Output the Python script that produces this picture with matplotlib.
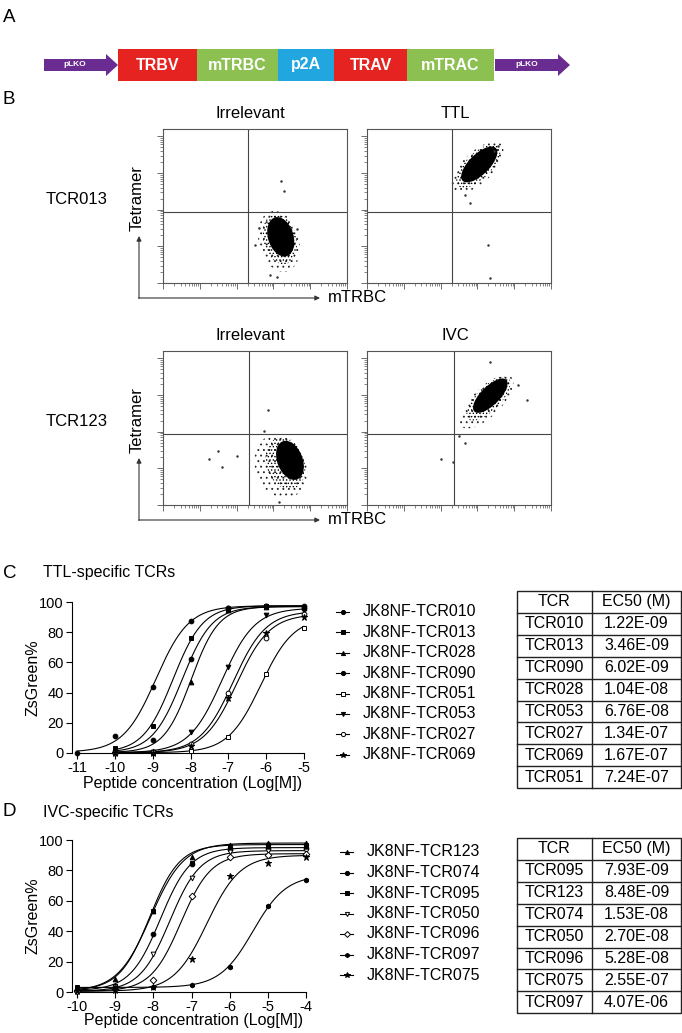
import numpy as np
import matplotlib
matplotlib.use('Agg')
import matplotlib.pyplot as plt
from matplotlib.patches import Rectangle, Polygon, Ellipse
from matplotlib.ticker import LogLocator, NullFormatter

plt.rcParams['font.family'] = ['Liberation Sans', 'DejaVu Sans']
plt.rcParams['hatch.linewidth'] = 0.6

W, H = 682, 1033

# ---- panel A: construct ----
construct_parts = ['TRBV', 'mTRBC', 'p2A', 'TRAV', 'mTRAC']
construct_colors = ['#E52421', '#8CC152', '#22A6DF', '#E52421', '#8CC152']
construct_edges = [118, 197, 278, 334, 407, 494]
vector_arrows = [(44, 118), (495, 570)]

# ---- panel B: flow plots ----
flow_rows = ['TCR013', 'TCR123']
flow_titles = [['Irrelevant', 'TTL'], ['Irrelevant', 'IVC']]
flow_percent = [['0.08%', '99.95%'], ['0.05%', '99.83%']]
# quadrant gate (axes fraction)
flow_gate = [[(0.46, 0.46), (0.46, 0.46)], [(0.47, 0.46), (0.475, 0.46)]]
# population core / halo: centre x, centre y, width, height, angle (axes fraction)
flow_core = [[(0.64, 0.30, 0.14, 0.26, 12), (0.61, 0.77, 0.12, 0.28, -38)],
             [(0.69, 0.29, 0.14, 0.26, 15), (0.67, 0.71, 0.11, 0.27, -38)]]
flow_halo = [[(0.63, 0.27, 0.22, 0.40, 10), (0.60, 0.75, 0.18, 0.40, -38)],
             [(0.64, 0.25, 0.28, 0.42, 12), (0.65, 0.67, 0.17, 0.42, -38)]]
flow_stray = [[[(0.66, 0.60), (0.64, 0.66), (0.52, 0.36), (0.58, 0.05), (0.62, 0.04), (0.50, 0.25), (0.73, 0.35)],
               [(0.53, 0.57), (0.56, 0.52), (0.69, 0.86), (0.71, 0.89), (0.66, 0.25), (0.67, 0.03)]],
              [[(0.25, 0.30), (0.30, 0.35), (0.40, 0.32), (0.32, 0.25), (0.57, 0.62), (0.55, 0.48), (0.63, 0.02)],
               [(0.67, 0.93), (0.82, 0.78), (0.87, 0.68), (0.50, 0.45), (0.53, 0.40), (0.40, 0.30), (0.47, 0.28)]]]

# ---- panel C: TTL-specific TCRs ----
ttl_log_conc = [-11, -10, -9, -8, -7, -6, -5]
ttl_names = ['JK8NF-TCR010', 'JK8NF-TCR013', 'JK8NF-TCR028', 'JK8NF-TCR090',
             'JK8NF-TCR051', 'JK8NF-TCR053', 'JK8NF-TCR027', 'JK8NF-TCR069']
ttl_markers = ['o', 's', '^', 'o', 's', 'v', 'o', '*']
ttl_filled = [True, True, True, True, False, True, False, True]
nan = np.nan
ttl_zsgreen = [
    [0, 11, 43.5, 87.5, 96, 97.5, 97.5],
    [nan, 3.5, 18, 76, 95, 97.5, 97],
    [nan, 0.5, 1, 47, 94.5, 97, 96],
    [nan, 1, 8.5, 62, 96, 97.5, 96],
    [nan, 0, 0, 1, 10.5, 52, 83],
    [nan, 0, 0.5, 14, 57, 91.5, 95],
    [nan, 0, 0.5, 6, 40, 76, 92],
    [nan, 0, 0, 4.5, 36.5, 79.5, 90],
]
ttl_top = [97.5, 97.5, 97, 97, 90, 96, 94, 92]
ttl_bottom = [0.5, 0.3, 0.3, 0.3, 0.2, 0.2, 0.2, 0.2]
ttl_hill = [1.0, 1.1, 1.2, 1.1, 1.0, 1.0, 1.0, 1.0]
ttl_table_tcr = ['TCR010', 'TCR013', 'TCR090', 'TCR028', 'TCR053', 'TCR027', 'TCR069', 'TCR051']
ttl_table_ec50 = ['1.22E-09', '3.46E-09', '6.02E-09', '1.04E-08', '6.76E-08', '1.34E-07', '1.67E-07', '7.24E-07']

# ---- panel D: IVC-specific TCRs ----
ivc_log_conc = [-10, -9, -8, -7, -6, -5, -4]
ivc_names = ['JK8NF-TCR123', 'JK8NF-TCR074', 'JK8NF-TCR095', 'JK8NF-TCR050',
             'JK8NF-TCR096', 'JK8NF-TCR097', 'JK8NF-TCR075']
ivc_markers = ['^', 'o', 's', 'v', 'D', 'h', '*']
ivc_filled = [True, True, True, False, False, True, True]
ivc_zsgreen = [
    [1, 8.5, 53, 89, 97, 98, 98],
    [1, 3, 38, 84, 94, 95, 95],
    [3, 4, 53, 85, 96, 97, 97],
    [0.5, 3, 25, 75, 92, 93, 93],
    [0.5, 2, 8, 63, 89, 90, 91],
    [2, 2.5, 3, 4.5, 16.5, 56.5, 74],
    [0.5, 1, 3, 22, 76.5, 85, 89],
]
ivc_top = [98, 95, 97, 93, 91, 77, 90]
ivc_bottom = [0.5, 1, 1, 0.5, 0.5, 3, 0.5]
ivc_hill = [1.0, 1.1, 1.1, 1.1, 1.1, 1.0, 1.0]
ivc_table_tcr = ['TCR095', 'TCR123', 'TCR074', 'TCR050', 'TCR096', 'TCR075', 'TCR097']
ivc_table_ec50 = ['7.93E-09', '8.48E-09', '1.53E-08', '2.70E-08', '5.28E-08', '2.55E-07', '4.07E-06']


fig = plt.figure(figsize=(W / 100, H / 100), dpi=100)

# overlay in pixel coordinates for labels and drawings
ov = fig.add_axes([0, 0, 1, 1])
ov.set_xlim(0, W)
ov.set_ylim(H, 0)
ov.axis('off')


def add_ax(x0, y0, x1, y1):
    return fig.add_axes([x0 / W, 1 - y1 / H, (x1 - x0) / W, (y1 - y0) / H])


# ---------------- A ----------------
ov.text(3, 17, 'A', fontsize=13.5, va='center', ha='left')
bar_top, bar_bot = 49, 81
ymid = (bar_top + bar_bot) / 2
for (xa, xb) in vector_arrows:
    head = 12
    body, hh = 6, 11
    pts = [(xa, ymid - body), (xb - head, ymid - body), (xb - head, ymid - hh), (xb, ymid),
           (xb - head, ymid + hh), (xb - head, ymid + body), (xa, ymid + body)]
    ov.add_patch(Polygon(pts, closed=True, color='#6B2C91', lw=0))
    ov.text((xa + xb - head) / 2, ymid, 'pLKO', color='white', fontsize=6, fontweight='bold',
            ha='center', va='center')
for i, part in enumerate(construct_parts):
    x0, x1 = construct_edges[i], construct_edges[i + 1]
    ov.add_patch(Rectangle((x0, bar_top), x1 - x0, bar_bot - bar_top, color=construct_colors[i], lw=0))
    ov.text((x0 + x1) / 2, ymid, part, color='white', fontsize=11.5, fontweight='bold',
            ha='center', va='center')

# ---------------- B ----------------
ov.text(3, 100, 'B', fontsize=13.5, va='center', ha='left')
row_shift = [0, 222]
box_x = [(163, 347), (367, 551)]
title_cx = [250, 455]
pct_right = [336, 548]
for r in range(2):
    dy = row_shift[r]
    ytop, ybot = 129 + dy, 283 + dy
    ov.text(108, 200 + dy, flow_rows[r], fontsize=12, ha='right', va='center')
    ov.text(137, 198 + dy, 'Tetramer', fontsize=12, rotation=90, ha='center', va='center')
    ax_y = 298 + dy
    ov.annotate('', xy=(139, 236 + dy), xytext=(139, ax_y + 0.4),
                arrowprops=dict(arrowstyle='-|>', lw=0.8, color='#333333', mutation_scale=7, shrinkA=0, shrinkB=0))
    ov.annotate('', xy=(320, ax_y), xytext=(138.6, ax_y),
                arrowprops=dict(arrowstyle='-|>', lw=0.8, color='#333333', mutation_scale=7, shrinkA=0, shrinkB=0))
    ov.text(328, ax_y, 'mTRBC', fontsize=12, ha='left', va='center')
    for c in range(2):
        x0, x1 = box_x[c]
        ax = add_ax(x0, ytop, x1, ybot)
        ax.set_xscale('log')
        ax.set_yscale('log')
        ax.set_xlim(1, 1e5)
        ax.set_ylim(1, 10 ** 4.2)
        for axis in (ax.xaxis, ax.yaxis):
            axis.set_major_locator(LogLocator(base=10, numticks=10))
            axis.set_minor_locator(LogLocator(base=10, subs=np.arange(2, 10), numticks=10))
            axis.set_major_formatter(NullFormatter())
            axis.set_minor_formatter(NullFormatter())
        ax.tick_params(which='major', length=4, width=0.6, color='#555555', direction='out')
        ax.tick_params(which='minor', length=2, width=0.5, color='#555555', direction='out')
        for s in ax.spines.values():
            s.set_linewidth(0.8)
            s.set_color('#555555')
        qx, qy = flow_gate[r][c]
        ax.plot([qx, qx], [0, 1], transform=ax.transAxes, color='#444444', lw=0.8)
        ax.plot([0, 1], [qy, qy], transform=ax.transAxes, color='#444444', lw=0.8)
        hx, hy, hw, hh2, ha = flow_halo[r][c]
        ax.add_patch(Ellipse((hx, hy), hw, hh2, angle=ha, transform=ax.transAxes,
                             facecolor='none', edgecolor='#222222', hatch='...', lw=0))
        ax.add_patch(Ellipse((hx * 0.5 + flow_core[r][c][0] * 0.5, hy * 0.5 + flow_core[r][c][1] * 0.5),
                             (hw + flow_core[r][c][2]) / 2, (hh2 + flow_core[r][c][3]) / 2, angle=ha,
                             transform=ax.transAxes, facecolor='none', edgecolor='black',
                             hatch='.....', lw=0))
        cx, cy, cw, ch, ca = flow_core[r][c]
        ax.add_patch(Ellipse((cx, cy), cw, ch, angle=ca, transform=ax.transAxes,
                             facecolor='black', lw=0))
        sx = [p[0] for p in flow_stray[r][c]]
        sy = [p[1] for p in flow_stray[r][c]]
        ax.scatter(sx, sy, s=0.6, color='#333333', transform=ax.transAxes)
        ov.text(title_cx[c], 113 + dy, flow_titles[r][c], fontsize=12, ha='center', va='center')
        ov.text(pct_right[c], 146 + dy, flow_percent[r][c], fontsize=10.5, ha='right', va='center')


# ---------------- dose-response ----------------
def hill_curve(x, bottom, top, logec50, hill):
    return bottom + (top - bottom) / (1 + 10 ** ((logec50 - x) * hill))


def dose_panel(box, log_conc, values, names, markers, filled, tops, bottoms, hills,
               table_tcr, table_ec50, xlim, label_y):
    ax = add_ax(*box)
    tcr_to_ec50 = dict(zip(table_tcr, table_ec50))
    for i, name in enumerate(names):
        yv = np.array(values[i], dtype=float)
        xv = np.array(log_conc, dtype=float)
        ok = ~np.isnan(yv)
        logec = np.log10(float(tcr_to_ec50[name.split('-')[1]]))
        xs = np.linspace(xv[ok].min(), xv[ok].max(), 200)
        ax.plot(xs, hill_curve(xs, bottoms[i], tops[i], logec, hills[i]), color='black', lw=0.8,
                clip_on=False)
        ms = 4.5 if markers[i] == '*' else 3.4
        ax.plot(xv[ok], yv[ok], ls='none', marker=markers[i], ms=ms, mew=0.7,
                mfc='black' if filled[i] else 'white', mec='black', clip_on=False, zorder=3)
    ax.set_xlim(*xlim)
    ax.set_ylim(0, 100)
    ax.set_xticks(log_conc)
    ax.set_yticks([0, 20, 40, 60, 80, 100])
    ax.set_xticklabels([str(v) for v in log_conc])
    ax.spines['top'].set_visible(False)
    ax.spines['right'].set_visible(False)
    ax.spines['left'].set_position(('outward', 3.5))
    for s in ('left', 'bottom'):
        ax.spines[s].set_linewidth(0.8)
    ax.tick_params(length=4, width=0.8, labelsize=10.5, pad=2)
    ax.set_xlabel('Peptide concentration (Log[M])', fontsize=11.5)
    ax.set_ylabel('ZsGreen%', fontsize=11.5)
    ax.xaxis.set_label_coords(0.507, label_y)
    ax.yaxis.set_label_coords(-0.16, 0.5)
    ax.patch.set_alpha(0)
    return ax


def legend_block(y0, step, x_line, x_text, names, markers, filled):
    for i, name in enumerate(names):
        y = y0 + i * step
        ov.plot([x_line, x_line + 13], [y, y], color='black', lw=0.8)
        ms = 4.2 if markers[i] == '*' else 3.0
        ov.plot([x_line + 6.5], [y], marker=markers[i], ms=ms, mew=0.7,
                mfc='black' if filled[i] else 'white', mec='black')
        ov.text(x_text, y, name, fontsize=11.5, ha='left', va='center')


def table_block(top, row_h, tcrs, ec50s):
    x0, xm, x1 = 517, 592, 681
    n = len(tcrs) + 1
    bottom = top + n * row_h
    ov.add_patch(Rectangle((x0, top), x1 - x0, bottom - top, fill=False, lw=1.0, ec='#222222'))
    ov.plot([xm, xm], [top, bottom], color='#222222', lw=1.0)
    for k in range(1, n):
        ov.plot([x0, x1], [top + k * row_h] * 2, color='#222222', lw=1.0)
    rows = [('TCR', 'EC50 (M)')] + list(zip(tcrs, ec50s))
    for k, (a, b) in enumerate(rows):
        yc = top + (k + 0.5) * row_h
        ov.text((x0 + xm) / 2, yc, a, fontsize=11.5, ha='center', va='center')
        ov.text((xm + x1) / 2, yc, b, fontsize=11.5, ha='center', va='center')


# C
ov.text(3, 573, 'C', fontsize=13.5, va='center', ha='left')
ov.text(43, 573, 'TTL-specific TCRs', fontsize=11.5, va='center', ha='left')
dose_panel((77, 602, 304, 753), ttl_log_conc, ttl_zsgreen, ttl_names, ttl_markers, ttl_filled,
           ttl_top, ttl_bottom, ttl_hill, ttl_table_tcr, ttl_table_ec50, (-11, -5), -0.15)
legend_block(612, 20.4, 336, 363, ttl_names, ttl_markers, ttl_filled)
table_block(591, 21.9, ttl_table_tcr, ttl_table_ec50)

# D
ov.text(3, 812, 'D', fontsize=13.5, va='center', ha='left')
ov.text(43, 812, 'IVC-specific TCRs', fontsize=11.5, va='center', ha='left')
dose_panel((77, 840, 306, 992), ivc_log_conc, ivc_zsgreen, ivc_names, ivc_markers, ivc_filled,
           ivc_top, ivc_bottom, ivc_hill, ivc_table_tcr, ivc_table_ec50, (-10, -4), -0.14)
legend_block(852, 20.5, 340, 367, ivc_names, ivc_markers, ivc_filled)
table_block(838, 21.9, ivc_table_tcr, ivc_table_ec50)

fig.savefig('out.png', dpi=100)
